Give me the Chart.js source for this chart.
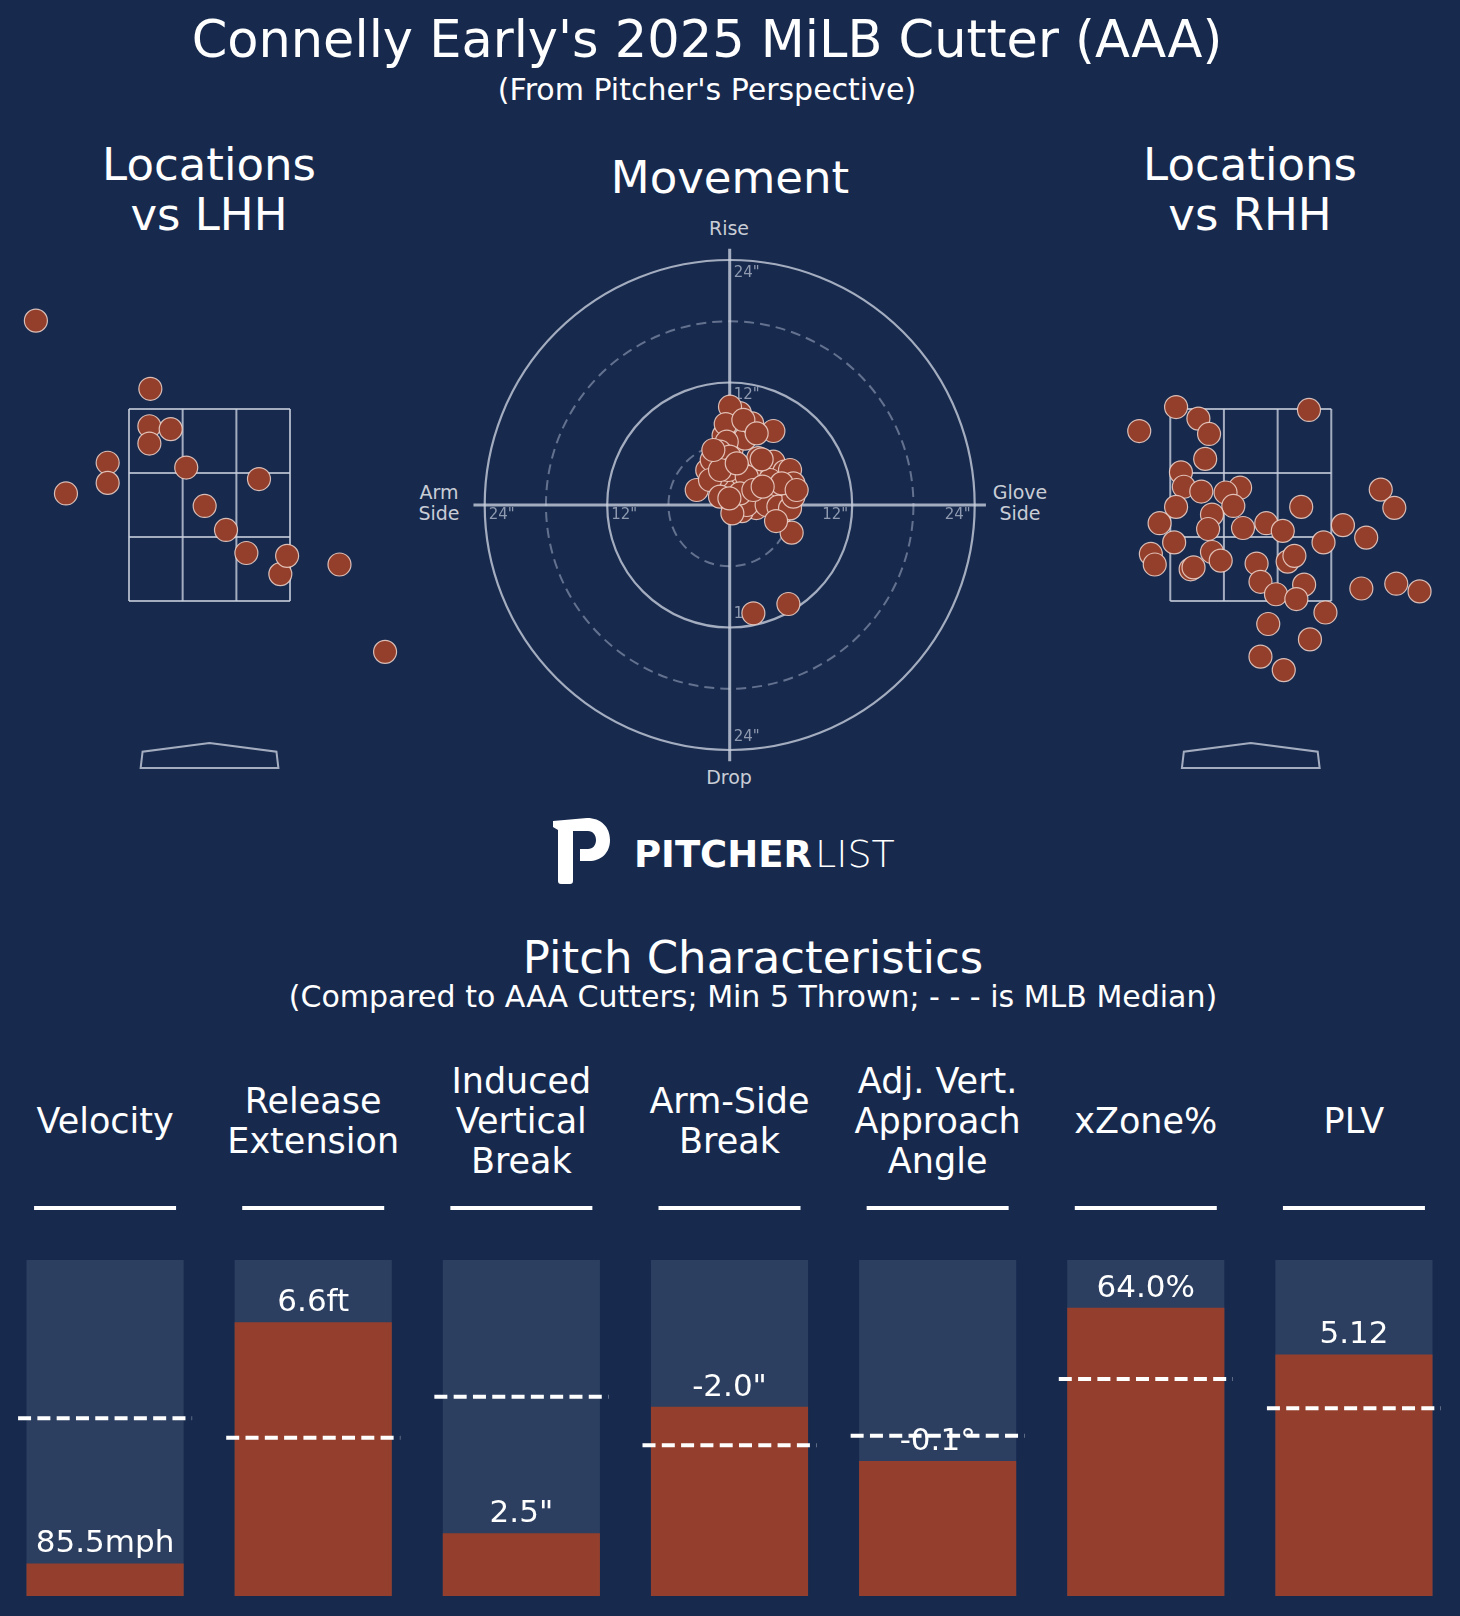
<!DOCTYPE html>
<html>
<head>
<meta charset="utf-8">
<script src="https://cdn.jsdelivr.net/npm/chart.js@4.4.1/dist/chart.umd.min.js"></script>
<style>
html,body{margin:0;padding:0;background:#172a4e;}
#page{position:relative;width:1460px;height:1616px;background:#172a4e;overflow:hidden;font-family:"DejaVu Sans",sans-serif;color:#fff;}
.t{position:absolute;text-align:center;white-space:nowrap;}
.axl{position:absolute;text-align:center;white-space:nowrap;color:#c9cdd6;font-size:19px;line-height:21px;}
canvas{position:absolute;}
#heads{position:absolute;left:1px;top:1060px;width:1457px;height:122px;display:grid;grid-template-columns:repeat(7,1fr);}
#heads div{display:flex;align-items:center;justify-content:center;text-align:center;font-size:35px;line-height:40px;color:#fff;}
</style>
</head>
<body>
<div id="page">
  <div class="t" style="left:0;width:1414px;top:10px;font-size:51px;line-height:60px;">Connelly Early's 2025 MiLB Cutter (AAA)</div>
  <div class="t" style="left:0;width:1414px;top:72px;font-size:30px;line-height:36px;">(From Pitcher's Perspective)</div>

  <div class="t" style="left:9px;width:400px;top:140px;font-size:45px;line-height:50px;">Locations<br>vs LHH</div>
  <div class="t" style="left:530px;width:400px;top:153px;font-size:45px;line-height:50px;">Movement</div>
  <div class="t" style="left:1050px;width:400px;top:140px;font-size:45px;line-height:50px;">Locations<br>vs RHH</div>

  <div class="axl" style="left:679px;width:100px;top:218px;">Rise</div>
  <div class="axl" style="left:679px;width:100px;top:767px;">Drop</div>
  <div class="axl" style="left:389px;width:100px;top:482px;">Arm<br>Side</div>
  <div class="axl" style="left:970px;width:100px;top:482px;">Glove<br>Side</div>

  <canvas id="lhh" width="420" height="540" style="left:0;top:250px;"></canvas>
  <canvas id="mov" width="520" height="530" style="left:470px;top:240px;"></canvas>
  <canvas id="rhh" width="420" height="540" style="left:1040px;top:250px;"></canvas>

  <svg style="position:absolute;left:540px;top:810px;" width="380" height="80">
    <g transform="translate(13,8)" fill="#ffffff">
      <path d="M0,3 L34,0 C48,0 57,9 57,22 C57,35 48,43 36,43 L27,43 L27,31 L35,31 C40,31 43,27 43,22 C43,17 40,13 35,13 L20,13 L20,63 Q20,66 17,66 L8,66 Q5,66 5,63 L5,12 L0,9 Z"/>
    </g>
    <text x="94" y="57" font-family="DejaVu Sans" font-weight="bold" font-size="37" fill="#ffffff">PITCHER</text>
    <text x="275" y="57" font-family="DejaVu Sans" font-weight="200" font-size="38" fill="#ffffff">LIST</text>
  </svg>

  <div class="t" style="left:153px;width:1200px;top:930px;font-size:45px;line-height:56px;">Pitch Characteristics</div>
  <div class="t" style="left:153px;width:1200px;top:979px;font-size:30px;line-height:36px;">(Compared to AAA Cutters; Min 5 Thrown; - - - is MLB Median)</div>

  <div id="heads"></div>
  <canvas id="bars" width="1460" height="576" style="left:0;top:1040px;"></canvas>
</div>

<script>
// pitch locations vs LHH (plate x / plate z, feet, pitcher's view)
const lhhX = [-1.79, -0.61, -0.62, -0.40, -0.62, -1.05, -1.05, -1.48, -0.24, 0.51, -0.05, 0.17, 0.38, 0.73, 0.80, 1.34, 1.81];
const lhhZ = [4.42, 3.71, 3.32, 3.29, 3.14, 2.94, 2.73, 2.62, 2.89, 2.77, 2.49, 2.24, 2.00, 1.78, 1.97, 1.88, 0.97];

// pitch locations vs RHH
const rhhX = [-0.77, -1.15, -0.54, -0.43, -0.47, 0.60, -0.72, -0.69, -0.51, -0.11, -0.26, -0.18, -0.77, -0.40, -0.44, -0.94,
  -0.08, 0.16, 0.33, 0.52, -0.79, -1.03, -0.99, -0.40, -0.31, -0.62, -0.59, 0.06, 0.38, 0.45, 0.10, 0.55,
  0.26, 0.47, 0.75, 0.95, 1.19, 1.34, 1.48, 1.14, 1.50, 1.74, 0.77, 0.18, 0.61, 0.10, 0.34];
const rhhZ = [3.52, 3.27, 3.40, 3.24, 2.98, 3.49, 2.84, 2.69, 2.64, 2.68, 2.63, 2.49, 2.48, 2.40, 2.25, 2.31,
  2.26, 2.31, 2.23, 2.48, 2.11, 1.99, 1.88, 2.01, 1.92, 1.83, 1.85, 1.89, 1.91, 1.97, 1.70, 1.67,
  1.57, 1.52, 2.11, 2.29, 2.16, 2.66, 2.47, 1.63, 1.68, 1.60, 1.38, 1.26, 1.10, 0.92, 0.78];

// movement, inches (horizontal: + = glove side, vertical: induced)
const movHB = [2.5, 3.5, 4.5, 2.0, 3.0, 4.0, 5.5, 1.0, 0.5, -0.5, -1.2, 0.2, 1.5, 2.2, 1.0, -0.6, 5.0, 2.6, 1.2, 3.8, 4.2, 2.8, -2.2,
  0.03, -0.39, 1.34, 4.28, -0.29, -0.95, -1.76, 0.0, -0.13, 4.28, 5.36, 5.91, 1.67, 4.77, 6.24, -3.23, -1.93, -0.95,
  0.36, 1.67, 3.62, 4.77, 5.91, 6.24, 0.26, 6.07, 3.95, 5.09, 1.01, 2.32, -0.95, 0.69, -1.6, 6.56,
  2.64, 3.13, 3.23, -0.03, 4.54, 2.32, 5.75];
const movIVB = [3.5, 3.0, 3.8, 2.0, 0.8, 1.0, 1.0, 0.5, 2.0, 1.5, 2.8, 5.5, 6.5, 8.0, 9.0, 6.8, -0.8, -0.3, -0.6, 2.0, 3.2, 4.6, 3.4,
  9.63, 7.93, 8.33, 7.25, 6.20, 5.22, 4.41, 4.73, 3.43, 4.24, 3.27, 3.43, 2.78, 1.31, 2.12, 1.47, 2.45, 0.82,
  -0.16, 0.0, 0.0, -0.16, -0.33, 0.82, -0.82, -2.71, 2.45, 2.12, 1.14, 1.47, 3.43, 4.08, 5.39, 1.47,
  7.02, 4.47, 1.80, 0.65, -1.57, -10.61, -9.70];

// pitch characteristics
const metricNames = [["Velocity"], ["Release", "Extension"], ["Induced", "Vertical", "Break"], ["Arm-Side", "Break"],
  ["Adj. Vert.", "Approach", "Angle"], ["xZone%"], ["PLV"]];
const metricText = ["85.5mph", "6.6ft", "2.5\"", "-2.0\"", "-0.1°", "64.0%", "5.12"];
const metricPct = [0.097, 0.815, 0.187, 0.563, 0.402, 0.858, 0.719];
const medianPct = [0.529, 0.471, 0.593, 0.449, 0.477, 0.646, 0.559];

// strike zone (ft) and movement rings (in)
const zoneX = [-0.83, -0.277, 0.277, 0.83];
const zoneZ = [1.5, 2.167, 2.833, 3.5];
const plate = [[0, 0.02], [0.69, -0.07], [0.71, -0.24], [-0.71, -0.24], [-0.69, -0.07]];
const rings = [6, 12, 18, 24];

const DOT = "#943f2c";
const DOT_EDGE = "rgba(240,214,204,0.85)";
const LINE = "rgba(200,206,220,0.8)";

document.getElementById("heads").innerHTML =
  metricNames.map(n => "<div>" + n.join("<br>") + "</div>").join("");

const zonePlugin = {
  id: "zone",
  beforeDatasetsDraw(chart) {
    const { ctx, scales: { x, y } } = chart;
    ctx.save();
    ctx.strokeStyle = LINE;
    ctx.lineWidth = 2;
    zoneX.forEach(v => {
      ctx.beginPath();
      ctx.moveTo(x.getPixelForValue(v), y.getPixelForValue(zoneZ[0]));
      ctx.lineTo(x.getPixelForValue(v), y.getPixelForValue(zoneZ[3]));
      ctx.stroke();
    });
    zoneZ.forEach(v => {
      ctx.beginPath();
      ctx.moveTo(x.getPixelForValue(zoneX[0]), y.getPixelForValue(v));
      ctx.lineTo(x.getPixelForValue(zoneX[3]), y.getPixelForValue(v));
      ctx.stroke();
    });
    ctx.beginPath();
    plate.forEach((p, i) => {
      const px = x.getPixelForValue(p[0]), py = y.getPixelForValue(p[1]);
      if (i === 0) ctx.moveTo(px, py); else ctx.lineTo(px, py);
    });
    ctx.closePath();
    ctx.stroke();
    ctx.restore();
  }
};

function locChart(id, xs, zs, xmin, xmax) {
  return new Chart(document.getElementById(id), {
    type: "scatter",
    data: {
      datasets: [{
        data: xs.map((v, i) => ({ x: v, y: zs[i] })),
        pointRadius: 11.5,
        pointBackgroundColor: DOT,
        pointBorderColor: DOT_EDGE,
        pointBorderWidth: 1.2,
        clip: false
      }]
    },
    options: {
      responsive: false,
      animation: false,
      events: [],
      layout: { padding: 0, autoPadding: false },
      plugins: { legend: { display: false }, tooltip: { enabled: false } },
      scales: {
        x: { type: "linear", display: false, min: xmin, max: xmax },
        y: { type: "linear", display: false, min: -0.469, max: 5.156 }
      }
    },
    plugins: [zonePlugin]
  });
}

locChart("lhh", lhhX, lhhZ, -2.160, 2.170);
locChart("rhh", rhhX, rhhZ, -2.173, 2.157);

const ringPlugin = {
  id: "rings",
  beforeDatasetsDraw(chart) {
    const { ctx, scales: { x, y } } = chart;
    const cx = x.getPixelForValue(0), cy = y.getPixelForValue(0);
    ctx.save();
    rings.forEach(r => {
      const rx = x.getPixelForValue(r) - cx, ry = cy - y.getPixelForValue(r);
      ctx.beginPath();
      ctx.ellipse(cx, cy, rx, ry, 0, 0, Math.PI * 2);
      if (r % 12 === 0) {
        ctx.setLineDash([]);
        ctx.strokeStyle = LINE;
        ctx.lineWidth = 2.2;
      } else {
        ctx.setLineDash([10, 6]);
        ctx.strokeStyle = "rgba(150,162,186,0.6)";
        ctx.lineWidth = 2;
      }
      ctx.stroke();
    });
    ctx.setLineDash([]);
    ctx.strokeStyle = LINE;
    ctx.lineWidth = 3;
    ctx.beginPath();
    ctx.moveTo(x.getPixelForValue(-25.1), cy);
    ctx.lineTo(x.getPixelForValue(25.1), cy);
    ctx.moveTo(cx, y.getPixelForValue(25.1));
    ctx.lineTo(cx, y.getPixelForValue(-25.1));
    ctx.stroke();

    ctx.fillStyle = "#8e99af";
    ctx.font = "15px 'DejaVu Sans'";
    ctx.textBaseline = "middle";
    [12, 24].forEach(r => {
      const label = r + '"';
      ctx.textAlign = "left";
      ctx.fillText(label, x.getPixelForValue(-r) + 4, cy + 10);
      ctx.fillText(label, cx + 4, y.getPixelForValue(r) + 13);
      ctx.fillText(label, cx + 4, y.getPixelForValue(-r) - 13);
      ctx.textAlign = "right";
      ctx.fillText(label, x.getPixelForValue(r) - 4, cy + 10);
    });
    ctx.restore();
  }
};

new Chart(document.getElementById("mov"), {
  type: "scatter",
  data: {
    datasets: [{
      data: movHB.map((v, i) => ({ x: v, y: movIVB[i] })),
      pointRadius: 11.5,
      pointBackgroundColor: DOT,
      pointBorderColor: DOT_EDGE,
      pointBorderWidth: 1.2,
      clip: false
    }]
  },
  options: {
    responsive: false,
    animation: false,
    events: [],
    layout: { padding: 0, autoPadding: false },
    plugins: { legend: { display: false }, tooltip: { enabled: false } },
    scales: {
      x: { type: "linear", display: false, min: -25.44, max: 25.50 },
      y: { type: "linear", display: false, min: -25.96, max: 25.96 }
    }
  },
  plugins: [ringPlugin]
});

const barPlugin = {
  id: "barMarks",
  afterDatasetsDraw(chart) {
    const { ctx, chartArea, scales: { y } } = chart;
    const meta = chart.getDatasetMeta(0);
    ctx.save();
    meta.data.forEach((bar, i) => {
      // header underline
      ctx.strokeStyle = "#ffffff";
      ctx.lineWidth = 4;
      ctx.setLineDash([]);
      ctx.beginPath();
      ctx.moveTo(bar.x - 71, chartArea.top - 52);
      ctx.lineTo(bar.x + 71, chartArea.top - 52);
      ctx.stroke();
      // MLB median
      const my = y.getPixelForValue(medianPct[i]);
      ctx.setLineDash([13, 6.3]);
      ctx.beginPath();
      ctx.moveTo(bar.x - 87, my);
      ctx.lineTo(bar.x + 87, my);
      ctx.stroke();
      // value label
      ctx.fillStyle = "#ffffff";
      ctx.font = "31px 'DejaVu Sans'";
      ctx.textAlign = "center";
      ctx.textBaseline = "middle";
      ctx.fillText(metricText[i], bar.x, bar.y - 19);
    });
    ctx.restore();
  }
};

new Chart(document.getElementById("bars"), {
  type: "bar",
  data: {
    labels: metricNames.map(n => n.join(" ")),
    datasets: [
      { data: metricPct, backgroundColor: "#943f2d", grouped: false, order: 0 },
      { data: metricNames.map(() => 1), backgroundColor: "#2c3f60", grouped: false, order: 1 }
    ]
  },
  options: {
    responsive: false,
    animation: false,
    events: [],
    barPercentage: 0.755,
    categoryPercentage: 1,
    layout: { padding: { left: 1, right: 2, top: 220, bottom: 20 }, autoPadding: false },
    plugins: { legend: { display: false }, tooltip: { enabled: false } },
    scales: {
      x: { display: false },
      y: { display: false, min: 0, max: 1 }
    }
  },
  plugins: [barPlugin]
});
</script>
</body>
</html>
